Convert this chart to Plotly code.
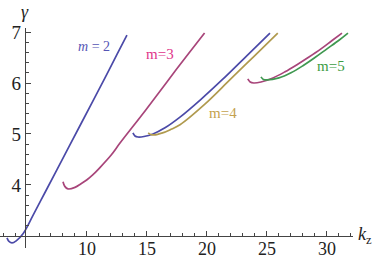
import plotly.graph_objects as go

# ---- data ----
kz_m2 = [3.33, 3.5, 3.75, 4.1, 4.67, 5.5, 6.5, 7.5, 8.5, 9.5, 10.5, 11.5, 12.5, 13.33]
g_m2 = [2.96, 2.89, 2.86, 2.90, 3.04, 3.40, 3.85, 4.30, 4.75, 5.20, 5.65, 6.10, 6.56, 6.94]

kz_m3 = [8.0, 8.15, 8.42, 9.0, 9.5, 10.0, 10.5, 11.0, 12.0, 12.75, 14.9, 17.3, 19.8]
g_m3 = [4.06, 3.97, 3.92, 3.95, 4.02, 4.10, 4.20, 4.32, 4.58, 4.82, 5.47, 6.22, 6.98]

kz_m4a = [13.83, 14.0, 14.25, 14.75, 15.5, 16.5, 17.75, 19.5, 21.25, 23.25, 25.25]
g_m4a = [5.02, 4.96, 4.94, 4.95, 5.00, 5.12, 5.33, 5.68, 6.06, 6.52, 6.98]

kz_m4b = [15.1, 15.3, 15.6, 16.3, 17.0, 17.75, 19.8, 21.9, 23.9, 25.9]
g_m4b = [5.02, 4.99, 4.98, 5.02, 5.09, 5.18, 5.58, 6.06, 6.52, 6.98]

kz_m5a = [23.4, 23.6, 23.9, 24.5, 25.5, 26.5, 27.5, 28.5, 29.5, 30.4, 31.25]
g_m5a = [6.08, 6.02, 6.00, 6.02, 6.10, 6.22, 6.36, 6.51, 6.67, 6.83, 6.98]

kz_m5b = [24.5, 24.7, 25.0, 26.0, 27.0, 28.0, 29.0, 30.0, 31.0, 31.75]
g_m5b = [6.12, 6.07, 6.06, 6.10, 6.20, 6.34, 6.50, 6.67, 6.84, 6.98]

x_ticks = [10, 15, 20, 25, 30]
y_ticks = [4, 5, 6, 7]

BLUE = "#4b4aa8"
MAGENTA = "#a8457a"
GOLD = "#b09a4e"
GREEN = "#3f9850"

X_RANGE = [2.75, 32.17]
Y_RANGE = [2.76, 7.08]
X_AXIS_AT = 3.0   # gamma where horizontal axis crosses
Y_AXIS_AT = 4.83  # kz where vertical axis crosses

fig = go.Figure()
for xs, ys, c in [(kz_m2, g_m2, BLUE), (kz_m3, g_m3, MAGENTA), (kz_m4a, g_m4a, BLUE),
                  (kz_m4b, g_m4b, GOLD), (kz_m5a, g_m5a, MAGENTA), (kz_m5b, g_m5b, GREEN)]:
    fig.add_trace(go.Scatter(x=xs, y=ys, mode="lines", line=dict(color=c, width=1.7, shape="spline"),
                             showlegend=False, hoverinfo="skip"))

font = "Liberation Serif"
xpos = (X_AXIS_AT - Y_RANGE[0]) / (Y_RANGE[1] - Y_RANGE[0])
ypos = (Y_AXIS_AT - X_RANGE[0]) / (X_RANGE[1] - X_RANGE[0])

fig.update_layout(
    template="none",
    width=378, height=262,
    margin=dict(l=0, r=25, t=28, b=14, autoexpand=False),
    paper_bgcolor="white", plot_bgcolor="white",
    font=dict(family=font, size=19, color="#222"),
    xaxis=dict(range=X_RANGE, anchor="free", position=xpos, showgrid=False, zeroline=False,
               automargin=False, ticklabelstandoff=-3,
               showline=True, linecolor="#444", linewidth=1.2,
               tickvals=x_ticks, ticks="inside", ticklen=5, tickcolor="#444",
               minor=dict(tickvals=[v for v in range(3, 33) if v not in x_ticks and v != 5],
                          ticks="inside", ticklen=2.5, tickcolor="#444", showgrid=False),
               tickfont=dict(family=font, size=18, color="#222")),
    yaxis=dict(range=Y_RANGE, anchor="free", position=ypos, showgrid=False, zeroline=False,
               automargin=False,
               showline=True, linecolor="#444", linewidth=1.2,
               tickvals=y_ticks, ticks="inside", ticklen=5, tickcolor="#444",
               minor=dict(tickvals=[round(3.2 + 0.2 * i, 1) for i in range(20) if round(3.2 + 0.2 * i, 1) not in y_ticks],
                          ticks="inside", ticklen=2.5, tickcolor="#444", showgrid=False),
               tickfont=dict(family=font, size=19, color="#222")),
)

ann = [
    dict(x=Y_AXIS_AT, y=Y_RANGE[1], xref="x", yref="y", text="<i>γ</i>", font=dict(size=18),
         xanchor="center", yanchor="bottom", yshift=4),
    dict(x=X_RANGE[1], y=X_AXIS_AT, xref="x", yref="y", text="<i>k</i><sub>z</sub>", font=dict(size=18),
         xanchor="left", yanchor="middle", xshift=3),
    dict(x=10.6, y=6.72, text="<i>m</i> = 2", font=dict(size=14, color="#5555b5")),
    dict(x=16.1, y=6.57, text="m=3", font=dict(size=15, color="#e0358a")),
    dict(x=21.35, y=5.41, text="m=4", font=dict(size=15, color="#c4a24e")),
    dict(x=30.35, y=6.33, text="m=5", font=dict(size=15, color="#3c9c44")),
]
for a in ann:
    a.setdefault("xref", "x")
    a.setdefault("yref", "y")
    a["showarrow"] = False
    a["font"].setdefault("family", font)
    fig.add_annotation(**a)

fig.write_html("out.html", config={"displayModeBar": False},
               post_script="document.body.style.margin='0px';document.body.style.overflow='hidden';")
